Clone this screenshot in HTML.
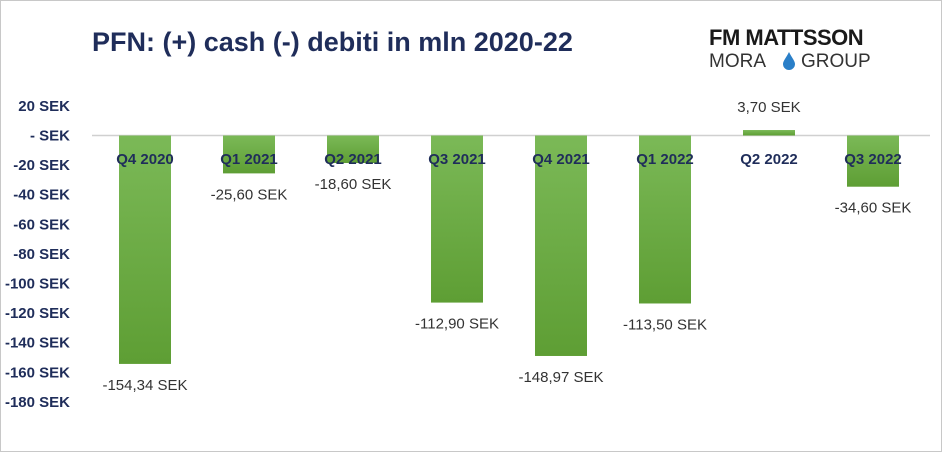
<!DOCTYPE html>
<html><head><meta charset="utf-8"><style>
body{margin:0;background:#fff}
svg{display:block;font-family:"Liberation Sans",Arial,sans-serif}
</style></head><body>
<svg width="942" height="452" viewBox="0 0 942 452" xmlns="http://www.w3.org/2000/svg">
<defs><linearGradient id="g" x1="0" y1="0" x2="0" y2="1"><stop offset="0" stop-color="#7bb957"/><stop offset="1" stop-color="#5e9e34"/></linearGradient></defs>
<rect x="0.5" y="0.5" width="941" height="451" fill="#fff" stroke="#c8c8c8"/>
<text x="92" y="51" font-size="27" font-weight="bold" fill="#1f2d5a">PFN: (+) cash (-) debiti in mln 2020-22</text>
<g>
<text x="709" y="45" font-size="22" font-weight="bold" fill="#1a1a1a" letter-spacing="-0.5">FM MATTSSON</text>
<text x="709" y="67" font-size="19" fill="#333">MORA</text>
<path d="M789 52 C786 58 783 61 783 64 A6 6 0 0 0 795 64 C795 61 792 58 789 52Z" fill="#2a7fc8"/>
<text x="801" y="67" font-size="19" fill="#333">GROUP</text>
</g>
<g id="axis"></g>
<line x1="92" x2="930" y1="135.5" y2="135.5" stroke="#d0d0d0" stroke-width="1.5"/>
<g id="bars"></g>
</svg>
<script>
const categories=["Q4 2020","Q1 2021","Q2 2021","Q3 2021","Q4 2021","Q1 2022","Q2 2022","Q3 2022"];
const values=[-154.34,-25.6,-18.6,-112.9,-148.97,-113.5,3.7,-34.6];
const valueLabels=["-154,34 SEK","-25,60 SEK","-18,60 SEK","-112,90 SEK","-148,97 SEK","-113,50 SEK","3,70 SEK","-34,60 SEK"];
const ticks=[20,0,-20,-40,-60,-80,-100,-120,-140,-160,-180];
const tickLabels=["20 SEK","- SEK","-20 SEK","-40 SEK","-60 SEK","-80 SEK","-100 SEK","-120 SEK","-140 SEK","-160 SEK","-180 SEK"];
const NS="http://www.w3.org/2000/svg";
const y=v=>135.5-v*1.48;
const x=i=>145+i*104;
const bw=52;
function mk(t,a,txt){const e=document.createElementNS(NS,t);for(const k in a)e.setAttribute(k,a[k]);if(txt!==undefined)e.textContent=txt;return e;}
const ax=document.getElementById('axis');
ticks.forEach((t,i)=>{const e=mk('text',{x:70,y:y(t)+5,'text-anchor':'end','font-size':15,'font-weight':'bold',fill:'#1f2d5a'},tickLabels[i]);


ax.appendChild(e);});
const bg=document.getElementById('bars');
values.forEach((v,i)=>{
const top=Math.min(y(v),y(0)),h=Math.abs(y(v)-y(0));
const r=mk('rect',{x:x(i)-bw/2,y:top,width:bw,height:h,fill:'url(#g)'});


bg.appendChild(r);
const c=mk('text',{x:x(i),y:164,'text-anchor':'middle','font-size':15,'font-weight':'bold',fill:'#1f2d5a'},categories[i]);


bg.appendChild(c);
const ly=v<0?y(v)+26:y(v)-18;
const l=mk('text',{x:x(i),y:ly,'text-anchor':'middle','font-size':15,fill:'#333'},valueLabels[i]);


bg.appendChild(l);
});
</script>
</body></html>
